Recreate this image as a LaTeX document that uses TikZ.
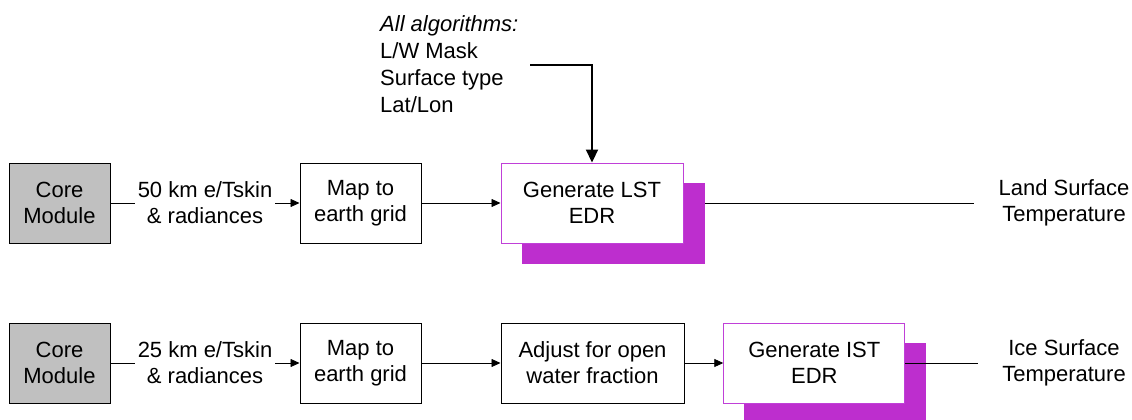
\documentclass[tikz,border=0pt]{standalone}
\usepackage{fontspec}
\setmainfont{Liberation Sans}
\usetikzlibrary{arrows.meta,backgrounds}
\definecolor{mag}{HTML}{BD2ECE}
\definecolor{magline}{HTML}{C040D8}
\definecolor{boxgray}{HTML}{C0C0C0}
\begin{document}
\begin{tikzpicture}[x=1pt,y=-1pt,
  every node/.style={font=\fontsize{22}{26}\selectfont, align=center},
  box/.style={draw=black, line width=1pt, minimum height=80pt, inner sep=2pt},
  corebox/.style={box, fill=boxgray, minimum width=101pt},
  mapbox/.style={box, minimum width=121pt},
  edrbox/.style={draw=magline, line width=1pt, fill=white, minimum height=80pt, minimum width=182pt, inner sep=2pt},
  shadowfill/.style={fill=mag},
  outlbl/.style={inner sep=0pt},
  conn/.style={line width=0.8pt, -{Triangle[length=9pt,width=8pt]}},
  plain/.style={line width=0.8pt},
  lbl/.style={fill=white, inner xsep=3pt, inner ysep=1pt},
  bigconn/.style={line width=2.2pt, -{Triangle[length=13pt,width=12pt]}}
]
\useasboundingbox (0,0) rectangle (1132,420);

% row 1
\node[corebox] (c1) at (59.5,203) {Core\\Module};
\node[mapbox] (m1) at (360.5,203) {Map to\\earth grid};
\node[edrbox] (lst) at (592,203) {Generate LST\\EDR};
\node[outlbl] (lout) at (1064,203) {Land Surface\\Temperature};
\draw[conn] (c1) -- node[lbl] {50 km e/Tskin\\\& radiances} (m1);
\draw[conn] (m1) -- (lst);
\begin{pgfonlayer}{background}
\draw[plain, shorten >=24pt] (lst) -- (lout);
\fill[shadowfill] ([shift={(21,20)}]lst.north west) rectangle ([shift={(21,20)}]lst.south east);
\end{pgfonlayer}

% inputs
\node[anchor=north west, align=left, inner sep=0pt, font=\fontsize{22}{27}\selectfont] (alg) at (380,15)
  {\textit{All algorithms:}\\L/W Mask\\Surface type\\Lat/Lon};
\coordinate (algout) at (530,65);
\draw[bigconn] (algout) -| (lst.north);

% row 2
\node[corebox] (c2) at (59.5,363) {Core\\Module};
\node[mapbox] (m2) at (360.5,363) {Map to\\earth grid};
\node[box, minimum width=183pt] (adj) at (592.5,363) {Adjust for open\\water fraction};
\node[edrbox, minimum width=181pt] (ist) at (814.3,363) {Generate IST\\EDR};
\node[outlbl] (iout) at (1064,363) {Ice Surface\\Temperature};
\begin{pgfonlayer}{background}
\fill[shadowfill] ([shift={(21,20)}]ist.north west) rectangle ([shift={(21,20)}]ist.south east);
\end{pgfonlayer}
\draw[conn] (c2) -- node[lbl] {25 km e/Tskin\\\& radiances} (m2);
\draw[conn] (m2) -- (adj);
\draw[conn] (adj) -- (ist);
\draw[plain, shorten >=24pt] (ist) -- (iout);
\end{tikzpicture}
\end{document}
